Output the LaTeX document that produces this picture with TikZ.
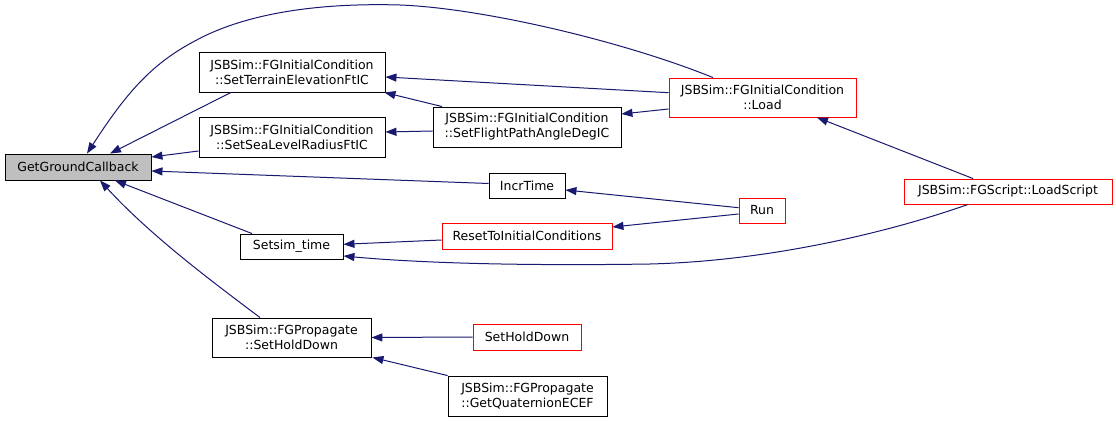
\documentclass[tikz,border=0pt]{standalone}
\usepackage{fontspec}
\setmainfont{DejaVu Sans}
\usetikzlibrary{arrows.meta}
\definecolor{edgec}{HTML}{191970}
\definecolor{redb}{HTML}{FF0000}
\tikzset{
  box/.style={draw=black, line width=0.9pt, fill=white, inner sep=0pt, align=center,
    font=\fontsize{12.5}{15}\selectfont},
  redbox/.style={box, draw=redb},
  conn/.style={draw=edgec, line width=1pt, {Triangle[length=11pt,width=8pt]}-},
}
\begin{document}
\begin{tikzpicture}[x=1pt,y=-1pt]
\useasboundingbox (0,0) rectangle (1116,422);
\fill[white] (0,0) rectangle (1116,422);
\node[box, fill=gray!50, minimum width=146pt, minimum height=26pt] (ggc) at (78,167) {GetGroundCallback};
\node[box, minimum width=186pt, minimum height=40pt] (ter) at (292,72) {JSBSim::FGInitialCondition\\::SetTerrainElevationFtIC};
\node[box, minimum width=186pt, minimum height=40pt] (sea) at (292,137) {JSBSim::FGInitialCondition\\::SetSeaLevelRadiusFtIC};
\node[box, minimum width=188pt, minimum height=40pt] (fpa) at (527,127) {JSBSim::FGInitialCondition\\::SetFlightPathAngleDegIC};
\node[redbox, minimum width=187pt, minimum height=39pt] (load) at (762.5,97.5) {JSBSim::FGInitialCondition\\::Load};
\node[box, minimum width=76pt, minimum height=25pt] (incr) at (527,185.5) {IncrTime};
\node[redbox, minimum width=46pt, minimum height=25pt] (run) at (762,210.5) {Run};
\node[redbox, minimum width=170pt, minimum height=26pt] (reset) at (527,236) {ResetToInitialConditions};
\node[box, minimum width=103pt, minimum height=25pt] (sim) at (291.5,246.5) {Setsim\_time};
\node[redbox, minimum width=208pt, minimum height=25pt] (lscript) at (1008,191.5) {JSBSim::FGScript::LoadScript};
\node[box, minimum width=159pt, minimum height=39pt] (phd) at (291.5,337.5) {JSBSim::FGPropagate\\::SetHoldDown};
\node[redbox, minimum width=108pt, minimum height=26pt] (shd) at (527,337) {SetHoldDown};
\node[box, minimum width=159pt, minimum height=40pt] (quat) at (527.5,396) {JSBSim::FGPropagate\\::GetQuaternionECEF};

% edges into GetGroundCallback
\draw[conn] ([xshift=9pt]ggc.north) .. controls (125,95) and (150,65) .. (193,42)
  .. controls (250,10) and (330,3) .. (400,5)
  .. controls (480,8) and (620,40) .. ([xshift=-49.5pt]load.north);
\draw[conn] ([xshift=32pt]ggc.north) -- ([xshift=-61pt]ter.south);
\draw[conn] ([yshift=10pt]ggc.east) -- ([yshift=-14pt]sea.west);
\draw[conn] ([yshift=-4pt]ggc.east) -- ([yshift=2pt]incr.west);
\draw[conn] ([xshift=37pt]ggc.south) -- ([xshift=-39.5pt]sim.north);
\draw[conn] ([xshift=22pt]ggc.south) .. controls (150,235) and (210,280) .. ([xshift=-31.5pt]phd.north);

% other edges
\draw[conn] ([yshift=-5pt]ter.east) -- ([yshift=4.8pt]load.west);
\draw[conn] ([xshift=-1pt]ter.south east) -- ([xshift=-85pt]fpa.north);
\draw[conn] ([yshift=5pt]sea.east) -- ([yshift=-4pt]fpa.west);
\draw[conn] ([yshift=13pt]fpa.east) -- ([yshift=-11.5pt]load.west);
\draw[conn] ([xshift=54.5pt]load.south) -- ([xshift=-35pt]lscript.north);
\draw[conn] ([yshift=-4.5pt]incr.east) -- ([yshift=2.8pt]run.west);
\draw[conn] ([yshift=9pt]reset.east) -- ([yshift=-3.5pt]run.west);
\draw[conn] ([yshift=2.2pt]sim.east) -- ([yshift=-4pt]reset.west);
\draw[conn] ([yshift=-9.5pt]sim.east) .. controls (420,263) and (520,266) .. (650,264)
  .. controls (770,261) and (890,232) .. ([xshift=-40pt]lscript.south);
\draw[conn] (phd.east) -- (shd.west);
\draw[conn] ([xshift=1pt]phd.south east) -- (quat.north west);
\end{tikzpicture}
\end{document}
